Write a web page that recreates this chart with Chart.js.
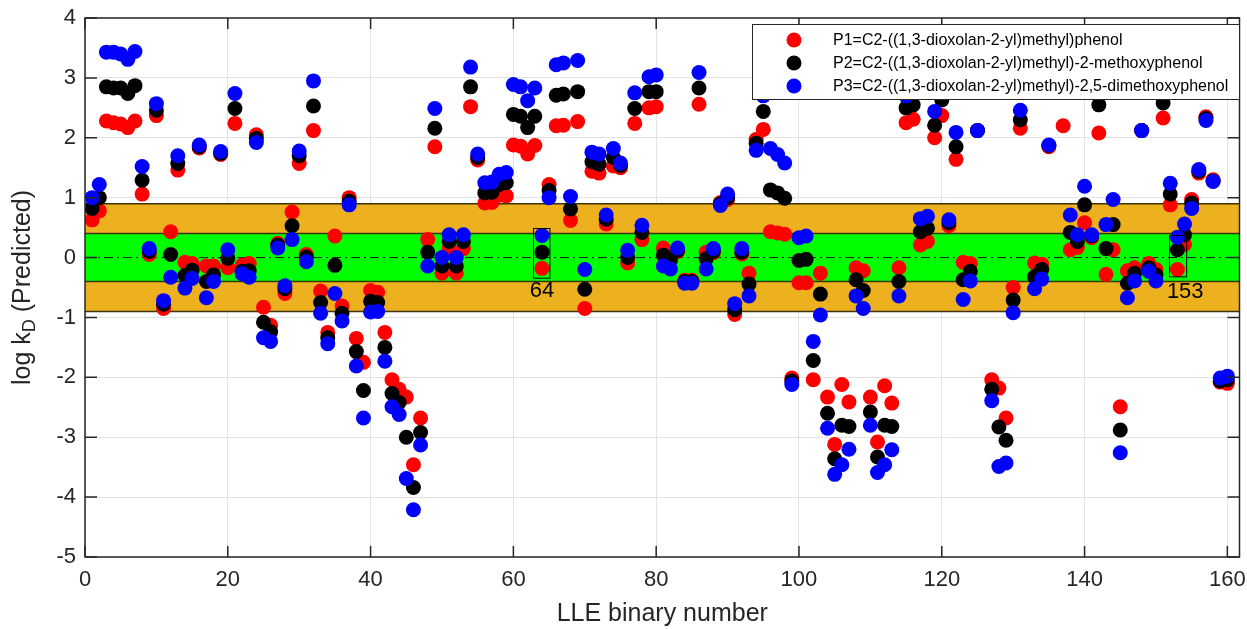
<!DOCTYPE html>
<html>
<head>
<meta charset="utf-8">
<script src="https://cdn.jsdelivr.net/npm/chart.js@4.4.0/dist/chart.umd.min.js"></script>
<style>
  html, body { margin: 0; padding: 0; background: #fff; }
</style>
</head>
<body>
<canvas id="myChart" width="1247" height="629"></canvas>
<script>
// LLE binary numbers 1..160 and predicted log kD for each phenol (null = not visible)
const binaryNumbers = Array.from({ length: 160 }, (_, i) => i + 1);

const p1 = [
  0.63, 0.78, 2.28, 2.25, 2.23, 2.17, 2.28, 1.06, 0.05, 2.37,
  -0.85, 0.43, 1.46, -0.08, -0.10, 1.83, -0.14, -0.14, 1.72, -0.17,
  2.24, -0.13, -0.10, 2.05, -0.83, -1.13, 0.24, -0.60, 0.76, 1.57,
  0.05, 2.12, -0.56, -1.25, 0.36, -0.81, 1.00, -1.35, -1.75, -0.55,
  -0.58, -1.25, -2.04, -2.20, -2.33, -3.46, -2.68, 0.30, 1.85, -0.26,
  0.15, -0.26, 0.15, 2.52, 1.63, 0.91, 0.92, 1.04, 1.03, 1.88,
  1.86, 1.73, 1.87, -0.18, 1.22, 2.20, 2.21, 0.62, 2.27, -0.85,
  1.44, 1.41, 0.56, 1.53, 1.50, -0.09, 2.24, 0.30, 2.50, 2.52,
  0.16, 0.04, 0.10, -0.38, -0.38, 2.56, 0.09, 0.08, 0.92, 0.97,
  -0.95, 0.06, -0.26, 1.97, 2.14, 0.43, 0.41, 0.39, -2.01, -0.42,
  -0.42, -2.04, -0.26, -2.33, -3.12, -2.12, -2.41, -0.17, -0.22, -2.33,
  -3.08, -2.14, -2.43, -0.17, 2.25, 2.31, 0.21, 0.27, 2.00, 2.37,
  0.53, 1.64, -0.08, -0.10, 2.12, null, -2.04, -2.18, -2.68, -0.50,
  2.16, null, -0.09, -0.11, 1.85, null, 2.20, 0.13, 0.17, 0.58,
  0.33, 2.08, -0.28, 0.13, -2.49, -0.22, -0.17, 2.12, -0.10, -0.20,
  2.33, 0.88, -0.20, 0.22, 0.97, 1.41, 2.35, 1.30, -2.08, -2.10
];

const p2 = [
  0.82, 1.00, 2.85, 2.83, 2.83, 2.74, 2.87, 1.29, 0.10, 2.46,
  -0.78, 0.05, 1.57, -0.30, -0.21, 1.85, -0.40, -0.29, 1.74, -0.01,
  2.49, -0.23, -0.22, 1.99, -1.08, -1.24, 0.21, -0.52, 0.53, 1.70,
  0.01, 2.53, -0.75, -1.34, -0.13, -0.93, 0.94, -1.57, -2.22, -0.73,
  -0.75, -1.50, -2.27, -2.42, -3.00, -3.84, -2.92, 0.09, 2.16, -0.14,
  0.27, -0.14, 0.27, 2.85, 1.67, 1.08, 1.09, 1.22, 1.25, 2.39,
  2.36, 2.17, 2.36, 0.09, 1.12, 2.71, 2.73, 0.81, 2.77, -0.53,
  1.60, 1.56, 0.64, 1.67, 1.54, 0.00, 2.49, 0.42, 2.77, 2.77,
  0.04, -0.04, 0.12, -0.40, -0.40, 2.83, -0.02, 0.10, 0.90, 1.00,
  -0.87, 0.09, -0.44, 1.91, 2.44, 1.13, 1.08, 0.99, -2.06, -0.05,
  -0.03, -1.72, -0.61, -2.60, -3.36, -2.80, -2.82, -0.37, -0.55, -2.58,
  -3.33, -2.80, -2.82, -0.40, 2.50, 2.55, 0.43, 0.49, 2.21, 2.63,
  0.58, 1.85, -0.37, -0.23, 2.12, null, -2.20, -2.83, -3.05, -0.71,
  2.30, null, -0.32, -0.20, 1.87, null, null, 0.42, 0.27, 0.88,
  0.36, 2.55, 0.15, 0.55, -2.88, -0.43, -0.26, 2.12, -0.17, -0.29,
  2.58, 1.06, 0.13, 0.38, 0.91, 1.44, 2.32, 1.28, -2.06, -2.04
];

const p3 = [
  1.00, 1.22, 3.43, 3.43, 3.40, 3.31, 3.44, 1.52, 0.15, 2.57,
  -0.72, -0.33, 1.70, -0.51, -0.35, 1.88, -0.67, -0.40, 1.77, 0.13,
  2.74, -0.27, -0.33, 1.92, -1.34, -1.40, 0.16, -0.47, 0.30, 1.78,
  -0.07, 2.95, -0.93, -1.44, -0.60, -1.06, 0.88, -1.81, -2.68, -0.91,
  -0.90, -1.73, -2.49, -2.62, -3.69, -4.21, -3.13, -0.14, 2.49, 0.00,
  0.38, 0.00, 0.38, 3.18, 1.73, 1.25, 1.26, 1.39, 1.42, 2.89,
  2.85, 2.62, 2.83, 0.37, 1.00, 3.22, 3.25, 1.02, 3.29, -0.20,
  1.76, 1.73, 0.71, 1.82, 1.58, 0.12, 2.75, 0.54, 3.02, 3.05,
  -0.14, -0.19, 0.16, -0.43, -0.43, 3.09, -0.19, 0.15, 0.87, 1.06,
  -0.77, 0.15, -0.64, 1.79, 2.70, 1.82, 1.72, 1.58, -2.12, 0.33,
  0.36, -1.40, -0.96, -2.85, -3.62, -3.46, -3.20, -0.64, -0.85, -2.80,
  -3.59, -3.46, -3.21, -0.64, 2.70, null, 0.65, 0.69, 2.44, null,
  0.63, 2.09, -0.70, -0.39, 2.12, null, -2.39, -3.49, -3.43, -0.92,
  2.46, null, -0.52, -0.36, 1.88, null, null, 0.71, 0.38, 1.19,
  0.38, null, 0.55, 0.97, -3.26, -0.67, -0.39, 2.12, -0.23, -0.39,
  null, 1.24, 0.34, 0.56, 0.82, 1.47, 2.29, 1.27, -2.01, -1.98
];

const seriesNames = [
  "P1=C2-((1,3-dioxolan-2-yl)methyl)phenol",
  "P2=C2-((1,3-dioxolan-2-yl)methyl)-2-methoxyphenol",
  "P3=C2-((1,3-dioxolan-2-yl)methyl)-2,5-dimethoxyphenol"
];
const seriesColors = ["#ff0000", "#000000", "#0000ff"];

const xTicks = [0, 20, 40, 60, 80, 100, 120, 140, 160];
const yTicks = [-5, -4, -3, -2, -1, 0, 1, 2, 3, 4];

// accuracy bands and highlighted binaries
const innerBand = [-0.4, 0.4];
const outerBand = [-0.9, 0.9];
const highlights = [
  { label: "64", x0: 62.8, x1: 65.1, y0: -0.33, y1: 0.5, tx: 64, ty: -0.55 },
  { label: "153", x0: 151.8, x1: 154.2, y0: -0.32, y1: 0.37, tx: 154.1, ty: -0.58 }
];

const FONT = "'Liberation Sans', Arial, Helvetica, sans-serif";
const AXIS_COLOR = "#262626";
const TICK_SIZE = 22;
const TITLE_SIZE = 25;

const toPoints = (vals) =>
  binaryNumbers.map((n, i) => ({ x: n, y: vals[i] }));

const decorations = {
  id: "decorations",
  beforeDatasetsDraw(chart) {
    const { ctx, chartArea: a, scales: { y } } = chart;
    ctx.save();
    // orange band
    const oTop = y.getPixelForValue(outerBand[1]);
    const oBot = y.getPixelForValue(outerBand[0]);
    ctx.fillStyle = "rgb(237,177,32)";
    ctx.fillRect(a.left, oTop, a.right - a.left, oBot - oTop);
    // green band
    const gTop = y.getPixelForValue(innerBand[1]);
    const gBot = y.getPixelForValue(innerBand[0]);
    ctx.fillStyle = "rgb(0,255,0)";
    ctx.fillRect(a.left, gTop, a.right - a.left, gBot - gTop);
    ctx.strokeStyle = "#3d3208";
    ctx.lineWidth = 1.5;
    [oTop, oBot, gTop, gBot].forEach((py) => {
      ctx.beginPath();
      ctx.moveTo(a.left, py);
      ctx.lineTo(a.right, py);
      ctx.stroke();
    });
    // zero line, dash-dot
    const z = y.getPixelForValue(0);
    ctx.strokeStyle = "#1a1a1a";
    ctx.lineWidth = 1;
    ctx.setLineDash([9, 4, 2, 4]);
    ctx.beginPath();
    ctx.moveTo(a.left, z);
    ctx.lineTo(a.right, z);
    ctx.stroke();
    ctx.restore();
  },
  afterDatasetsDraw(chart) {
    const { ctx, chartArea: a, scales: { x, y } } = chart;
    ctx.save();
    // highlight boxes
    ctx.strokeStyle = "#000";
    ctx.lineWidth = 1;
    ctx.fillStyle = "#000";
    ctx.font = TICK_SIZE + "px " + FONT;
    ctx.textAlign = "center";
    ctx.textBaseline = "middle";
    highlights.forEach((h) => {
      const left = x.getPixelForValue(h.x0);
      const right = x.getPixelForValue(h.x1);
      const top = y.getPixelForValue(h.y1);
      const bot = y.getPixelForValue(h.y0);
      ctx.strokeRect(Math.round(left) + 0.5, Math.round(top) + 0.5, right - left, bot - top);
      ctx.fillText(h.label, x.getPixelForValue(h.tx), y.getPixelForValue(h.ty));
    });

    // axes box and inward ticks
    ctx.strokeStyle = AXIS_COLOR;
    ctx.lineWidth = 1.5;
    ctx.strokeRect(a.left, a.top, a.right - a.left, a.bottom - a.top);
    ctx.beginPath();
    xTicks.forEach((v) => {
      const px = x.getPixelForValue(v);
      ctx.moveTo(px, a.bottom); ctx.lineTo(px, a.bottom - 11);
      ctx.moveTo(px, a.top); ctx.lineTo(px, a.top + 11);
    });
    yTicks.forEach((v) => {
      const py = y.getPixelForValue(v);
      ctx.moveTo(a.left, py); ctx.lineTo(a.left + 12, py);
      ctx.moveTo(a.right, py); ctx.lineTo(a.right - 12, py);
    });
    ctx.stroke();

    // legend box (inside the axes, covers points)
    const lx = 752.5, ly = 24.5, lw = a.right - 752.5, lh = 75;
    ctx.fillStyle = "#fff";
    ctx.fillRect(lx, ly, lw, lh);
    ctx.strokeStyle = AXIS_COLOR;
    ctx.lineWidth = 1;
    ctx.strokeRect(lx, ly, lw, lh);
    ctx.font = "16px " + FONT;
    ctx.textAlign = "left";
    ctx.textBaseline = "middle";
    seriesNames.forEach((name, i) => {
      const ry = 40 + i * 23;
      ctx.fillStyle = seriesColors[i];
      ctx.beginPath();
      ctx.arc(794, ry, 7.5, 0, Math.PI * 2);
      ctx.fill();
      ctx.fillStyle = "#000";
      ctx.fillText(name, 833, ry + 1);
    });

    // axis titles
    ctx.fillStyle = AXIS_COLOR;
    ctx.font = TITLE_SIZE + "px " + FONT;
    ctx.textAlign = "center";
    ctx.fillText("LLE binary number", (a.left + a.right) / 2, 614);

    ctx.translate(23, (a.top + a.bottom) / 2);
    ctx.rotate(-Math.PI / 2);
    const big = TITLE_SIZE + "px " + FONT, small = "18px " + FONT;
    ctx.font = big;
    const w1 = ctx.measureText("log k").width;
    const w3 = ctx.measureText(" (Predicted)").width;
    ctx.font = small;
    const w2 = ctx.measureText("D").width;
    let cx = -(w1 + w2 + w3) / 2;
    ctx.textAlign = "left";
    ctx.font = big;
    ctx.fillText("log k", cx, 0);
    cx += w1;
    ctx.font = small;
    ctx.fillText("D", cx, 7);
    cx += w2;
    ctx.font = big;
    ctx.fillText(" (Predicted)", cx, 0);
    ctx.restore();
  }
};

const ctx = document.getElementById("myChart").getContext("2d");
new Chart(ctx, {
  type: "scatter",
  data: {
    datasets: [
      { label: seriesNames[0], data: toPoints(p1), backgroundColor: seriesColors[0], order: 2 },
      { label: seriesNames[1], data: toPoints(p2), backgroundColor: seriesColors[1], order: 1 },
      { label: seriesNames[2], data: toPoints(p3), backgroundColor: seriesColors[2], order: 0 }
    ].map((d) => Object.assign(d, { pointRadius: 7.5, pointHoverRadius: 7.5, borderWidth: 0, pointBorderWidth: 0 }))
  },
  options: {
    responsive: false,
    animation: false,
    devicePixelRatio: 1,
    layout: { padding: { top: 18, right: 6, left: 0, bottom: 0 } },
    plugins: {
      legend: { display: false },
      tooltip: { enabled: false }
    },
    scales: {
      x: {
        type: "linear",
        min: 0,
        max: 161.7,
        afterBuildTicks: (s) => { s.ticks = xTicks.map((v) => ({ value: v })); },
        afterFit: (s) => { s.height = 72; s.paddingLeft = 0; s.paddingRight = 0; },
        ticks: { color: AXIS_COLOR, font: { family: FONT, size: TICK_SIZE }, padding: 10, maxRotation: 0 },
        grid: { color: "#e3e3e3", lineWidth: 1, drawTicks: false },
        border: { display: false }
      },
      y: {
        min: -5,
        max: 4,
        afterBuildTicks: (s) => { s.ticks = yTicks.map((v) => ({ value: v })); },
        afterFit: (s) => { s.width = 85; s.paddingTop = 0; s.paddingBottom = 0; },
        ticks: { color: AXIS_COLOR, font: { family: FONT, size: TICK_SIZE }, padding: 9 },
        grid: { color: "#e3e3e3", lineWidth: 1, drawTicks: false },
        border: { display: false }
      }
    }
  },
  plugins: [decorations]
});
</script>
</body>
</html>
